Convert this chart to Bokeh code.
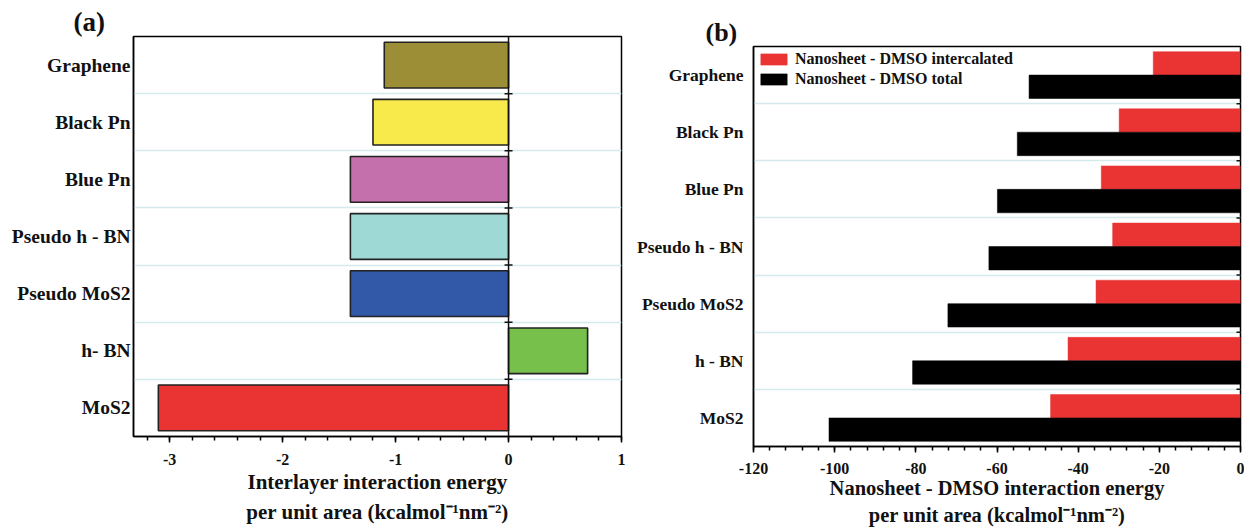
import numpy as np
from bokeh.plotting import figure
from bokeh.models import (ColumnDataSource, FixedTicker, Range1d,
                          Legend, LegendItem, Span)
from bokeh.layouts import row
from bokeh.transform import dodge
from bokeh.embed import file_html
from bokeh.resources import INLINE

# ---------------- data ----------------
# categories listed bottom -> top
categories_a = ["MoS2", "h- BN", "Pseudo MoS2", "Pseudo h - BN", "Blue Pn", "Black Pn", "Graphene"]
interlayer_energy = [-3.10, 0.70, -1.40, -1.40, -1.40, -1.20, -1.10]
colors_a = ["#ea3434", "#76c04b", "#3258a8", "#9fd9d6", "#c470ad", "#f8ea4a", "#9c8e36"]

categories_b = ["MoS2", "h - BN", "Pseudo MoS2", "Pseudo h - BN", "Blue Pn", "Black Pn", "Graphene"]
dmso_intercalated = [-46.8, -42.5, -35.6, -31.5, -34.3, -29.9, -21.5]
dmso_total = [-101.4, -80.8, -72.1, -62.0, -59.9, -55.0, -52.1]

ticks_a = [-3, -2, -1, 0, 1]
ticks_b = [-120, -100, -80, -60, -40, -20, 0]

label_a = "Interlayer interaction energy\nper unit area (kcalmol\u207b\u00b9nm\u207b\u00b2)"
label_b = "Nanosheet - DMSO interaction energy\nper unit area (kcalmol\u207b\u00b9nm\u207b\u00b2)"

FONT = "Liberation Serif"
GRID = "#d4eaec"
INK = "#111111"

def style_axes(p, cat_size, tick_size, axis_size, title_size):
    p.outline_line_color = "black"
    p.outline_line_width = 1.5
    p.xgrid.grid_line_color = None
    for ax in (p.xaxis[0], p.yaxis[0]):
        ax.axis_line_color = "black"
        ax.axis_line_width = 1.5
        ax.major_label_text_font = FONT
        ax.major_label_text_font_style = "bold"
        ax.major_label_text_color = INK
        ax.axis_label_text_font = FONT
        ax.axis_label_text_font_style = "bold"
        ax.axis_label_text_color = INK
    p.yaxis.major_tick_line_color = None
    p.yaxis.minor_tick_line_color = None
    p.yaxis.major_tick_out = 0
    p.yaxis.major_tick_in = 0
    p.yaxis.minor_tick_out = 0
    p.yaxis.minor_tick_in = 0
    p.yaxis.major_label_text_font_size = cat_size
    p.xaxis.major_label_text_font_size = tick_size
    p.xaxis.major_tick_out = 6
    p.xaxis.major_tick_in = 0
    p.xaxis.minor_tick_out = 4
    p.xaxis.minor_tick_in = 0
    p.xaxis.major_tick_line_width = 1.5
    p.xaxis.minor_tick_line_width = 1.5
    p.xaxis.axis_label_text_font_size = axis_size
    p.xaxis.axis_label_text_line_height = 1.25
    p.xaxis.axis_label_standoff = 2
    p.title.text_font = FONT
    p.title.text_font_style = "bold"
    p.title.text_font_size = title_size
    p.title.text_color = INK
    p.title.align = "left"
    p.title.standoff = 0

# ---------------- panel (a) ----------------
ya = list(range(len(categories_a)))
seps_a = [i + 0.5 for i in ya[:-1]]
src_a = ColumnDataSource(dict(y=ya, v=interlayer_energy, c=colors_a))

p1 = figure(width=634, height=531, output_backend="svg", toolbar_location=None,
            title="(a)", frame_align=False,
            x_range=Range1d(-3.32, 1.0), y_range=Range1d(-0.5, len(ya) - 0.5),
            min_border_left=133, min_border_right=13, min_border_top=36,
            min_border_bottom=95, background_fill_color="white", border_fill_color="white")
p1.hbar(y="y", left=0, right="v", height=0.8, fill_color="c",
        line_color="#222222", line_width=1.6, source=src_a)
p1.add_layout(Span(location=0, dimension="height", line_color=INK, line_width=1.5))
p1.scatter(x=[0] * len(seps_a), y=seps_a, marker="dash", size=8, line_color=INK, line_width=1.5)

style_axes(p1, "19.5px", "16px", "21px", "27px")
p1.title.offset = -60
p1.yaxis.ticker = FixedTicker(ticks=ya)
p1.yaxis.major_label_overrides = {i: c for i, c in zip(ya, categories_a)}
p1.yaxis.major_label_standoff = 3
p1.xaxis.major_label_standoff = 11
p1.ygrid.ticker = FixedTicker(ticks=seps_a)
p1.ygrid.grid_line_color = GRID
p1.ygrid.grid_line_width = 1.5
p1.xaxis.ticker = FixedTicker(ticks=ticks_a, minor_ticks=list(np.round(np.arange(-3.2, 1.01, 0.2), 2)))
p1.xaxis.major_label_overrides = {t: str(t) for t in ticks_a}
p1.xaxis.axis_label = label_a

# ---------------- panel (b) ----------------
yb = list(range(len(categories_b)))
seps_b = [i + 0.5 for i in yb[:-1]]
src_b = ColumnDataSource(dict(y=yb, inter=dmso_intercalated, tot=dmso_total))

p2 = figure(width=610, height=531, output_backend="svg", toolbar_location=None,
            title="(b)", frame_align=False,
            x_range=Range1d(-120, 0), y_range=Range1d(-0.5, len(yb) - 0.5),
            min_border_left=118, min_border_right=4, min_border_top=46,
            min_border_bottom=85, background_fill_color="white", border_fill_color="white")
r_int = p2.hbar(y=dodge("y", 0.205, range=p2.y_range), left=0, right="inter", height=0.41,
                fill_color="#ea3434", line_color="#ea3434", line_width=0.5, source=src_b)
r_tot = p2.hbar(y=dodge("y", -0.205, range=p2.y_range), left=0, right="tot", height=0.41,
                fill_color="#000000", line_color="#000000", line_width=0.5, source=src_b)
p2.scatter(x=[0] * len(seps_b), y=seps_b, marker="dash", size=8, line_color=INK, line_width=1.5)

style_axes(p2, "17.5px", "16px", "20.5px", "26px")
p2.title.offset = -48
p2.yaxis.ticker = FixedTicker(ticks=yb)
p2.yaxis.major_label_overrides = {i: c for i, c in zip(yb, categories_b)}
p2.yaxis.major_label_standoff = 10
p2.xaxis.major_label_standoff = 10
p2.xaxis.axis_label_standoff = 0
p2.ygrid.ticker = FixedTicker(ticks=seps_b)
p2.ygrid.grid_line_color = GRID
p2.ygrid.grid_line_width = 1.5
p2.xaxis.ticker = FixedTicker(ticks=ticks_b, minor_ticks=list(range(-120, 1, 4)))
p2.xaxis.major_label_overrides = {t: str(t) for t in ticks_b}
p2.xaxis.axis_label = label_b

legend = Legend(items=[LegendItem(label="Nanosheet - DMSO intercalated", renderers=[r_int]),
                       LegendItem(label="Nanosheet - DMSO total", renderers=[r_tot])],
                location="top_left", margin=0, padding=4, spacing=2,
                glyph_width=33, glyph_height=14, label_standoff=5,
                label_text_font=FONT, label_text_font_style="bold", label_text_font_size="16px",
                label_text_color=INK, border_line_alpha=0, background_fill_alpha=0)
p2.add_layout(legend)

layout = row(p1, p2)
open("out.html", "w").write(file_html(layout, INLINE))
